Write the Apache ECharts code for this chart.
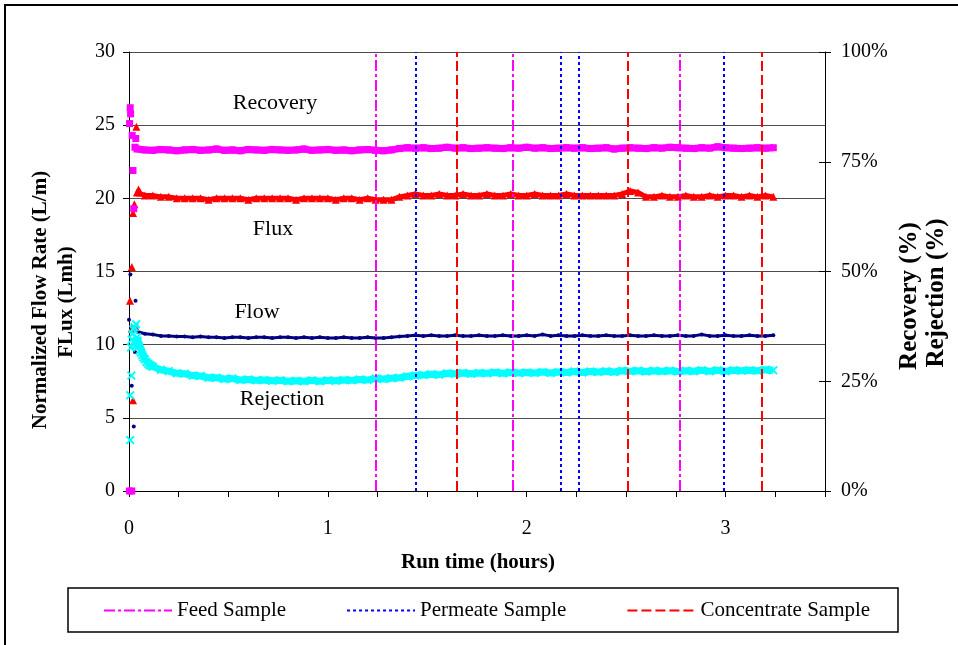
<!DOCTYPE html>
<html>
<head>
<meta charset="utf-8">
<script src="https://cdn.jsdelivr.net/npm/echarts@6/dist/echarts.min.js"></script>
<style>
  html, body { margin: 0; padding: 0; background: #fff; }
  #chart { width: 958px; height: 645px; }
</style>
</head>
<body>
<div id="chart"></div>
<script>
// Run time (hours) of the logged readings along the settled trend
const runTime = [0.04,0.08,0.12,0.16,0.20,0.24,0.28,0.32,0.36,0.40,0.44,0.48,0.52,0.56,0.60,0.64,0.68,0.72,0.76,0.80,0.84,0.88,0.92,0.96,1.00,
  1.04,1.08,1.12,1.16,1.20,1.24,1.28,1.32,1.36,1.40,1.44,1.48,1.52,1.56,1.60,1.64,1.68,1.72,1.76,1.80,1.84,1.88,1.92,1.96,2.00,
  2.04,2.08,2.12,2.16,2.20,2.24,2.28,2.32,2.36,2.40,2.44,2.48,2.52,2.56,2.60,2.64,2.68,2.72,2.76,2.80,2.84,2.88,2.92,2.96,3.00,
  3.04,3.08,3.12,3.16,3.20,3.24];

// Recovery (%) — right axis
const recovery = [77.9,77.7,
  77.6,77.8,77.7,77.5,77.7,77.8,77.6,77.7,77.9,77.6,77.7,77.5,77.8,77.7,77.6,77.8,77.7,77.6,77.7,77.9,77.6,77.7,77.8,
  77.6,77.7,77.5,77.7,77.8,77.6,77.5,77.7,
  78.0,78.2,78.1,78.2,78.0,78.1,78.3,78.1,
  78.2,78.0,78.1,78.2,78.1,78.0,78.2,78.1,
  78.3,78.1,78.2,78.0,78.1,78.2,78.1,78.2,
  78.0,78.1,78.2,77.9,78.1,78.2,78.1,78.0,
  78.2,78.1,78.3,78.2,78.1,78.0,78.2,78.1,
  78.4,78.2,78.1,78.0,78.1,78.2,78.1,78.2];

// Flux (Lmh) — left axis
const flux = [20.4,20.2,
  20.2,20.1,20.1,20.0,20.0,20.0,20.0,19.9,20.0,20.0,20.0,20.0,19.9,20.0,20.0,20.0,20.0,20.0,19.9,20.0,20.0,20.0,20.0,
  19.9,20.0,20.0,19.9,20.0,19.9,19.9,19.9,
  20.1,20.2,20.3,20.2,20.2,20.3,20.2,20.2,
  20.3,20.2,20.2,20.3,20.2,20.2,20.3,20.2,
  20.2,20.3,20.2,20.2,20.2,20.3,20.2,20.2,
  20.2,20.2,20.2,20.2,20.3,20.5,20.4,20.1,
  20.1,20.2,20.1,20.1,20.2,20.1,20.1,20.2,
  20.1,20.2,20.2,20.1,20.2,20.1,20.2,20.1];

// Normalized flow rate (L/m) — left axis
const flow = [10.9,10.75,
  10.7,10.6,10.6,10.55,10.55,10.5,10.55,10.5,10.5,10.45,10.5,10.5,10.45,10.5,10.5,10.45,10.5,10.5,10.45,10.5,10.45,10.5,10.45,
  10.45,10.5,10.45,10.45,10.5,10.45,10.45,10.5,
  10.55,10.6,10.65,10.6,10.65,10.6,10.6,10.65,
  10.6,10.6,10.65,10.6,10.6,10.65,10.6,10.6,
  10.65,10.6,10.7,10.6,10.65,10.6,10.6,10.65,
  10.6,10.6,10.65,10.6,10.6,10.65,10.6,10.6,
  10.65,10.6,10.6,10.65,10.6,10.6,10.7,10.6,
  10.6,10.65,10.6,10.6,10.65,10.6,10.6,10.65];

// Rejection (%) — right axis
const rejection = [35.0,30.0,
  28.3,27.6,27.3,26.8,26.7,26.3,26.2,25.8,25.8,25.5,25.6,25.3,25.4,25.2,25.3,25.1,25.2,25.0,25.1,25.0,25.2,25.0,25.2,
  25.1,25.3,25.2,25.4,25.3,25.6,25.5,25.7,25.8,26.1,26.3,26.4,26.6,26.5,26.8,26.7,26.9,26.7,26.9,26.8,27.0,26.8,27.0,26.9,27.0,
  26.9,27.1,26.9,27.1,27.0,27.2,27.0,27.2,27.1,27.3,27.1,27.4,27.3,27.4,27.2,27.4,27.3,27.4,27.2,27.4,27.3,27.5,27.3,27.5,27.3,
  27.5,27.4,27.5,27.4,27.6,27.5];

// Scattered start-up readings [hours, value] before the trend settles
const recoveryStart = [[0.002,0],[0.014,0],[0.006,87.3],[0.008,85.9],[0.003,83.7],[0.016,81.0],[0.034,80.3],[0.020,73.0],
  [0.024,64.3],[0.030,78.3]];
const fluxStart = [[0.005,13.0],[0.014,15.3],[0.014,11.1],[0.020,6.2],[0.020,19.0],[0.037,24.9],[0.027,19.6],[0.032,11.2],
  [0.048,20.6],[0.056,20.4]];
const flowStart = [[0.007,14.8],[0.033,13.0],[0.000,11.7],[0.030,9.5],[0.014,7.2],[0.024,4.4],[0.026,11.2],[0.038,11.0]];
const rejectionStart = [[0.006,11.6],[0.006,21.8],[0.012,26.3],[0.010,32.7],[0.014,34.5],[0.018,35.8],[0.022,36.8],[0.028,37.3],
  [0.036,38.0],[0.026,34.0],[0.032,33.0],[0.044,34.2],[0.048,33.0],[0.054,32.0],[0.060,31.5],[0.066,30.9],[0.072,30.4],
  [0.088,29.4],[0.096,29.0],[0.104,28.7],[0.112,28.5]];

// Sampling times (hours)
const feedSampleTimes = [1.237, 1.930, 2.775];
const permeateSampleTimes = [1.442, 2.171, 2.257, 2.991];
const concentrateSampleTimes = [1.645, 2.508, 3.184];

// Axis ranges and ticks
const xTicks = { min: 0, max: 3.5, step: 0.25 };
const leftTicks = { min: 0, max: 30, step: 5 };
const rightTicks = { min: 0, max: 100, step: 25 };

const SERIF = '"Liberation Serif", "Times New Roman", serif';
const CROSS = 'path://M0,1.5L1.5,0L5,3.5L8.5,0L10,1.5L6.5,5L10,8.5L8.5,10L5,6.5L1.5,10L0,8.5L3.5,5Z';

function withTime(values) {
  return runTime.map((t, i) => [t, values[i]]);
}

// A measured quantity: the settled trend as a dense marker band, plus loose start-up markers
function measured(name, axis, color, symbol, size, bandWidth, start, values, z) {
  return [
    {
      name: name, type: 'line', yAxisIndex: axis, z: z,
      symbol: symbol, symbolSize: size, showSymbol: true, showAllSymbol: true,
      lineStyle: { color: color, width: bandWidth },
      itemStyle: { color: color, opacity: 1 },
      emphasis: { disabled: true },
      data: withTime(values)
    },
    {
      name: name + ' start-up', type: 'scatter', yAxisIndex: axis, z: z,
      symbol: symbol, symbolSize: size,
      itemStyle: { color: color, opacity: 1 },
      emphasis: { disabled: true },
      data: start
    }
  ];
}

function sampleSeries(name, color, dash, times) {
  const ls = { color: color, width: 2, type: dash };
  return {
    name: name, type: 'line', data: [], symbol: 'none', z: 6,
    lineStyle: ls, itemStyle: { color: color },
    markLine: {
      silent: true, symbol: ['none', 'none'], label: { show: false },
      emphasis: { disabled: true }, animation: false,
      lineStyle: ls,
      data: times.map(t => ({ xAxis: t }))
    }
  };
}

const chart = echarts.init(document.getElementById('chart'), null, { renderer: 'canvas' });

chart.setOption({
  animation: false,
  backgroundColor: '#fff',
  textStyle: { fontFamily: SERIF },
  grid: { left: 129, right: 133, top: 52, bottom: 154, containLabel: false },
  xAxis: {
    type: 'value', min: xTicks.min, max: xTicks.max, interval: xTicks.step,
    axisLine: { onZero: false, lineStyle: { color: '#000', width: 1 } },
    axisTick: { show: true, inside: false, length: 6, lineStyle: { color: '#000' } },
    axisLabel: {
      margin: 28, color: '#000', fontSize: 20, fontFamily: SERIF,
      formatter: v => (Math.abs(v - Math.round(v)) < 1e-9 ? String(Math.round(v)) : '')
    },
    splitLine: { show: false }
  },
  yAxis: [
    {
      type: 'value', position: 'left', min: leftTicks.min, max: leftTicks.max, interval: leftTicks.step,
      axisLine: { show: true, lineStyle: { color: '#000' } },
      axisTick: { show: true, length: 6, lineStyle: { color: '#000' } },
      axisLabel: { margin: 14, color: '#000', fontSize: 20, fontFamily: SERIF },
      splitLine: { show: true, lineStyle: { color: '#4d4d4d', width: 1 } }
    },
    {
      type: 'value', position: 'right', min: rightTicks.min, max: rightTicks.max, interval: rightTicks.step,
      axisLine: { show: true, lineStyle: { color: '#000' } },
      axisTick: { show: true, length: 6, lineStyle: { color: '#000' } },
      axisLabel: { margin: 16, color: '#000', fontSize: 20, fontFamily: SERIF, formatter: '{value}%' },
      splitLine: { show: false }
    },
    {
      type: 'value', position: 'right', min: rightTicks.min, max: rightTicks.max, interval: rightTicks.step,
      axisLine: { show: false },
      axisTick: { show: true, inside: true, length: 6, lineStyle: { color: '#000' } },
      axisLabel: { show: false },
      splitLine: { show: false }
    }
  ],
  legend: {
    data: ['Feed Sample', 'Permeate Sample', 'Concentrate Sample'],
    left: 98, top: 595, itemWidth: 68, itemHeight: 14, itemGap: 60,
    selectedMode: false,
    itemStyle: { opacity: 0 },
    textStyle: { color: '#000', fontSize: 21, fontFamily: SERIF }
  },
  series: [].concat(
    measured('Flow', 0, '#000080', 'circle', 4, 3, flowStart, flow, 2),
    measured('Flux', 0, '#FF0000', 'triangle', 8, 5, fluxStart, flux, 2),
    measured('Recovery', 1, '#FF00FF', 'rect', 7, 7, recoveryStart, recovery, 2),
    measured('Rejection', 1, '#00FFFF', CROSS, 9, 7, rejectionStart, rejection, 3),
    [
      sampleSeries('Feed Sample', '#FF00FF', [11, 3, 3, 3], feedSampleTimes),
      sampleSeries('Permeate Sample', '#0000FF', [3, 3], permeateSampleTimes),
      sampleSeries('Concentrate Sample', '#FF0000', [10, 4], concentrateSampleTimes)
    ]
  ),
  graphic: [
    { type: 'rect', shape: { x: 5, y: 5, width: 1000, height: 700 }, style: { fill: 'none', stroke: '#000', lineWidth: 2 }, silent: true },
    { type: 'rect', shape: { x: 68, y: 588, width: 830, height: 44 }, style: { fill: 'none', stroke: '#000', lineWidth: 1.5 }, silent: true },
    { type: 'text', x: 275, y: 103, style: { text: 'Recovery', font: '22px ' + SERIF, fill: '#000', align: 'center', verticalAlign: 'middle' } },
    { type: 'text', x: 273, y: 229, style: { text: 'Flux', font: '22px ' + SERIF, fill: '#000', align: 'center', verticalAlign: 'middle' } },
    { type: 'text', x: 257, y: 312, style: { text: 'Flow', font: '22px ' + SERIF, fill: '#000', align: 'center', verticalAlign: 'middle' } },
    { type: 'text', x: 282, y: 399, style: { text: 'Rejection', font: '22px ' + SERIF, fill: '#000', align: 'center', verticalAlign: 'middle' } },
    { type: 'text', x: 478, y: 563, style: { text: 'Run time (hours)', font: 'bold 21px ' + SERIF, fill: '#000', align: 'center', verticalAlign: 'middle' } },
    { type: 'text', x: 41, y: 300, rotation: Math.PI / 2, style: { text: 'Normalized Flow Rate (L/m)', font: 'bold 21px ' + SERIF, fill: '#000', align: 'center', verticalAlign: 'middle' } },
    { type: 'text', x: 67, y: 302, rotation: Math.PI / 2, style: { text: 'FLux (Lmh)', font: 'bold 21px ' + SERIF, fill: '#000', align: 'center', verticalAlign: 'middle' } },
    { type: 'text', x: 910, y: 296, rotation: Math.PI / 2, style: { text: 'Recovery (%)', font: 'bold 25px ' + SERIF, fill: '#000', align: 'center', verticalAlign: 'middle' } },
    { type: 'text', x: 937, y: 293, rotation: Math.PI / 2, style: { text: 'Rejection (%)', font: 'bold 25px ' + SERIF, fill: '#000', align: 'center', verticalAlign: 'middle' } }
  ]
});
</script>
</body>
</html>
